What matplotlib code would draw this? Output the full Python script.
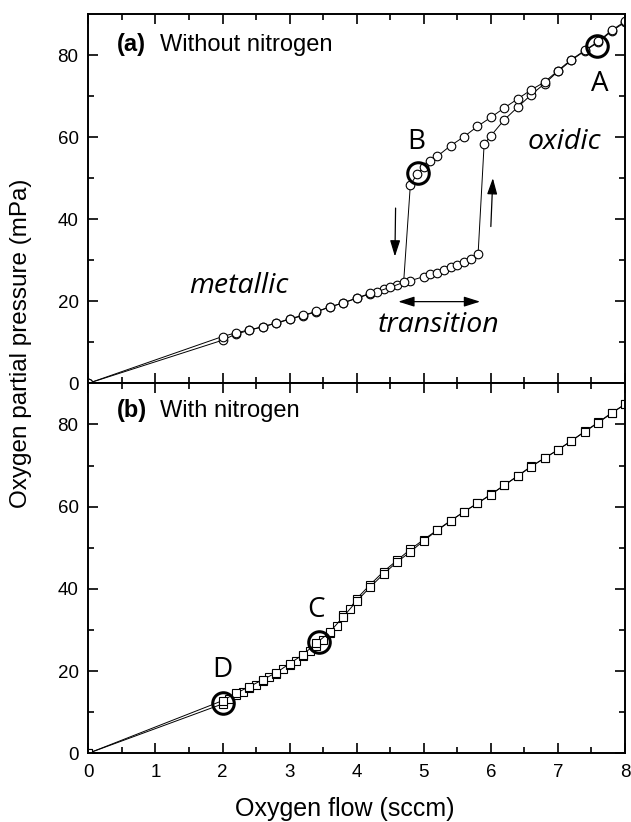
import matplotlib
matplotlib.use('Agg')
import matplotlib.pyplot as plt

# (a) without nitrogen: increasing and decreasing oxygen flow
flow_up = [0, 2.0, 2.2, 2.4, 2.6, 2.8, 3.0, 3.2, 3.4, 3.6, 3.8, 4.0, 4.2, 4.4, 4.6, 4.8,
           5.0, 5.1, 5.2, 5.3, 5.4, 5.5, 5.6, 5.7, 5.81, 5.9, 6.0, 6.2, 6.4, 6.6, 6.8,
           7.0, 7.2, 7.4, 7.6, 7.8, 8.0]
pres_up = [0, 10.5, 12.0, 12.9, 13.8, 14.6, 15.6, 16.5, 17.4, 18.6, 19.6, 20.7, 21.8, 22.9, 24.0, 25.0,
           26.0, 26.6, 27.0, 27.6, 28.3, 28.9, 29.5, 30.3, 31.5, 58.3, 60.3, 64.2, 67.3, 70.3, 73.0,
           76.0, 78.7, 81.0, 83.1, 85.8, 88.0]
flow_down = [8.0, 7.8, 7.6, 7.4, 7.2, 7.0, 6.8, 6.6, 6.4, 6.2, 6.0, 5.8, 5.6, 5.4, 5.2, 5.1, 5.0, 4.9, 4.8,
             4.7, 4.5, 4.3, 4.2, 4.0, 3.8, 3.6, 3.4, 3.2, 3.0, 2.8, 2.6, 2.4, 2.2, 2.0, 0]
pres_down = [88.2, 86.0, 83.3, 81.1, 78.9, 76.2, 73.4, 71.5, 69.3, 67.1, 64.8, 62.6, 60.1, 57.9, 55.3, 54.1, 52.6, 51.0, 48.3,
             24.6, 23.4, 22.3, 21.9, 20.8, 19.6, 18.6, 17.5, 16.6, 15.7, 14.7, 13.8, 13.0, 12.3, 11.4, 0]

# (b) with nitrogen
flow_n_up = [0, 2.0, 2.1, 2.2, 2.3, 2.4, 2.5, 2.6, 2.7, 2.8, 2.9, 3.0, 3.1, 3.2, 3.3, 3.4, 3.5, 3.6, 3.7,
             3.8, 3.9, 4.0, 4.2, 4.4, 4.6, 4.8, 5.0, 5.2, 5.4, 5.6, 5.8, 6.0, 6.2, 6.4, 6.6, 6.8,
             7.0, 7.2, 7.4, 7.6, 7.8, 8.0]
pres_n_up = [0, 12.0, 13.3, 14.2, 15.0, 15.8, 16.7, 17.6, 18.5, 19.3, 20.4, 21.4, 22.4, 23.6, 24.8, 26.2, 27.5, 29.3, 31.0,
             33.6, 35.2, 37.6, 41.0, 44.2, 46.9, 49.6, 52.0, 54.3, 56.6, 58.7, 60.8, 63.0, 65.2, 67.5, 69.8, 71.8,
             73.8, 76.0, 78.3, 80.5, 82.8, 84.9]
flow_n_down = [8.0, 7.8, 7.6, 7.4, 7.2, 7.0, 6.8, 6.6, 6.4, 6.2, 6.0, 5.8, 5.6, 5.4, 5.2, 5.0, 4.8, 4.6,
               4.4, 4.2, 4.0, 3.8, 3.6, 3.4, 3.2, 3.0, 2.8, 2.6, 2.4, 2.2, 2.0, 0]
pres_n_down = [84.9, 82.7, 80.4, 78.2, 76.0, 73.8, 71.8, 69.7, 67.4, 65.2, 62.9, 60.8, 58.8, 56.5, 54.2, 51.7, 49.0, 46.5,
               43.6, 40.4, 37.0, 33.2, 29.5, 26.8, 24.0, 21.8, 19.6, 17.9, 16.2, 14.6, 12.8, 0]

# highlighted states
marked_a = {'A': (7.58, 82.3), 'B': (4.92, 51.2)}
marked_b = {'C': (3.44, 27.1), 'D': (2.0, 12.2)}

plt.rcParams['font.family'] = ['Liberation Sans', 'DejaVu Sans']
note_font = dict(family='Open Sans', size=20.5)

fig = plt.figure(figsize=(6.31, 8.22), dpi=100)
ax1 = fig.add_axes([0.140, 0.5337, 0.8505, 0.4493])
ax2 = fig.add_axes([0.140, 0.0836, 0.8505, 0.4501])

line_kw = dict(color='black', lw=0.7, mfc='white', mec='black', mew=0.8)
ax1.plot(flow_up, pres_up, marker='o', ms=6.2, **line_kw)
ax1.plot(flow_down, pres_down, marker='o', ms=6.2, **line_kw)
ax2.plot(flow_n_up, pres_n_up, marker='s', ms=5.3, **line_kw)
ax2.plot(flow_n_down, pres_n_down, marker='s', ms=5.3, **line_kw)

for ax, marks in ((ax1, marked_a), (ax2, marked_b)):
    for name, (x, y) in marks.items():
        ax.plot(x, y, marker='o', ms=15.5, mfc='none', mec='black', mew=2.2, ls='none')

# labels of the highlighted points
ax1.text(7.63, 73.0, 'A', ha='center', va='center', fontsize=20, family='Open Sans')
ax1.text(4.89, 58.9, 'B', ha='center', va='center', fontsize=20, family='Open Sans')
ax2.text(3.39, 34.8, 'C', ha='center', va='center', fontsize=20, family='Open Sans')
ax2.text(2.0, 20.3, 'D', ha='center', va='center', fontsize=20, family='Open Sans')

# regime annotations
ax1.text(2.25, 23.7, 'metallic', ha='center', va='center', style='italic', **note_font)
ax1.text(7.1, 58.9, 'oxidic', ha='center', va='center', style='italic', **note_font)
ax1.text(5.22, 14.2, 'transition', ha='center', va='center', style='italic', **note_font)

arrow = dict(arrowstyle='-|>,head_length=0.7,head_width=0.22', color='black', lw=0.9,
             mutation_scale=14, shrinkA=0, shrinkB=0)
ax1.annotate('', xy=(4.57, 30.9), xytext=(4.58, 42.7), arrowprops=arrow)
ax1.annotate('', xy=(6.03, 50.0), xytext=(6.00, 38.2), arrowprops=arrow)
arrow2 = dict(arrow, arrowstyle='<|-|>,head_length=0.7,head_width=0.22')
ax1.annotate('', xy=(5.84, 19.9), xytext=(4.62, 19.9), arrowprops=arrow2)

# panel titles
for ax, tag, title, yb in ((ax1, '(a)', 'Without nitrogen', 0.900), (ax2, '(b)', 'With nitrogen', 0.910)):
    ax.text(0.0535, yb, tag, transform=ax.transAxes, fontsize=17, fontweight='bold', va='baseline')
    ax.text(0.134, yb, title, transform=ax.transAxes, fontsize=17, va='baseline')

for ax in (ax1, ax2):
    ax.set_xlim(0, 8)
    ax.set_ylim(0, 90)
    ax.set_xticks(range(0, 9))
    ax.set_xticks([i + 0.5 for i in range(8)], minor=True)
    ax.set_yticks([0, 20, 40, 60, 80])
    ax.set_yticks([10, 30, 50, 70], minor=True)
    ax.tick_params(which='both', direction='in', top=True, right=True, width=1.2, labelsize=13.5)
    ax.tick_params(which='major', length=7)
    ax.tick_params(which='minor', length=4.5)
    ax.tick_params(axis='y', pad=7)
    ax.tick_params(axis='x', pad=8)
    ax.tick_params(axis='y', which='both', labelright=False)
    for sp in ax.spines.values():
        sp.set_linewidth(1.4)

ax1.tick_params(axis='x', which='both', labelbottom=False)
ax2.set_xlabel('Oxygen flow (sccm)', fontsize=18)
ax2.xaxis.set_label_coords(0.478, -0.118)
fig.text(0.034, 0.582, 'Oxygen partial pressure (mPa)', rotation=90, ha='center', va='center', fontsize=17.5)

fig.savefig('out.png', dpi=100)
